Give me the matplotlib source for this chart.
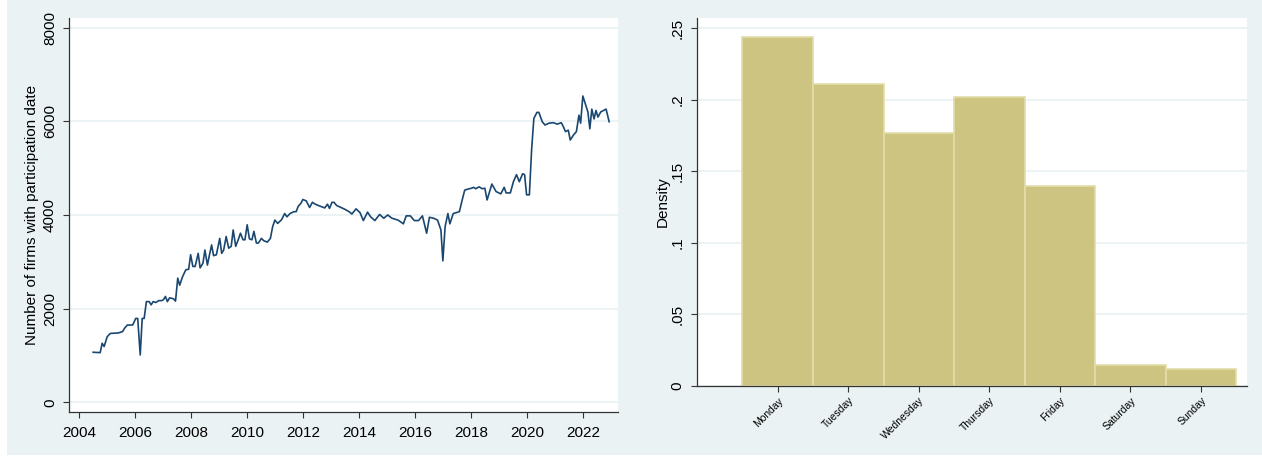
import matplotlib
matplotlib.use("Agg")
import matplotlib.pyplot as plt
from matplotlib.patches import Rectangle

plt.rcParams['font.family'] = ['Liberation Sans', 'DejaVu Sans']

# left panel: firms with participation date
years = [2004.51, 2004.76, 2004.83, 2004.90, 2005.01, 2005.12, 2005.41, 2005.56, 2005.63, 2005.73,
         2005.92, 2006.03, 2006.10, 2006.19, 2006.26, 2006.33, 2006.41, 2006.51, 2006.58, 2006.65,
         2006.75, 2006.85, 2006.95,
         2007.02, 2007.09, 2007.16, 2007.24, 2007.38, 2007.45, 2007.53, 2007.60, 2007.70, 2007.82,
         2007.92, 2007.99, 2008.07, 2008.15, 2008.26, 2008.33, 2008.43, 2008.50, 2008.59, 2008.65,
         2008.74, 2008.81, 2008.91, 2009.03, 2009.10, 2009.17, 2009.26, 2009.35, 2009.44, 2009.51,
         2009.60, 2009.69, 2009.77, 2009.86, 2009.93, 2010.01, 2010.09, 2010.18, 2010.25, 2010.34,
         2010.41, 2010.52, 2010.60, 2010.73, 2010.84, 2010.92, 2011.00, 2011.10, 2011.24, 2011.35,
         2011.43, 2011.54, 2011.68, 2011.76, 2011.83, 2011.93, 2012.00, 2012.12, 2012.24, 2012.34,
         2012.44, 2012.56, 2012.78, 2012.88, 2012.95, 2013.04, 2013.11, 2013.21, 2013.36, 2013.50,
         2013.65, 2013.75, 2013.90, 2014.04, 2014.16, 2014.31, 2014.42, 2014.57, 2014.74, 2014.89,
         2015.03, 2015.18, 2015.40, 2015.59, 2015.69, 2015.84, 2015.98, 2016.13, 2016.27, 2016.42,
         2016.52, 2016.67, 2016.81, 2016.93, 2017.00, 2017.08, 2017.18, 2017.25, 2017.37, 2017.59,
         2017.69, 2017.78, 2017.88, 2018.02, 2018.10, 2018.17, 2018.30, 2018.40, 2018.50,
         2018.58, 2018.75, 2018.90, 2019.07, 2019.19, 2019.26,
         2019.41, 2019.52, 2019.63, 2019.73, 2019.85, 2019.92, 2019.99, 2020.09, 2020.17, 2020.25,
         2020.36, 2020.43, 2020.55, 2020.65, 2020.79, 2020.94, 2021.09, 2021.23, 2021.30, 2021.38,
         2021.48, 2021.55, 2021.67, 2021.77, 2021.86, 2021.92, 2022.00, 2022.12, 2022.18, 2022.25,
         2022.32, 2022.40, 2022.47, 2022.54, 2022.64, 2022.83, 2022.94]
firms = [1068, 1060, 1260, 1190, 1400, 1470, 1480, 1510, 1580, 1650,
         1650, 1790, 1790, 1010, 1790, 1790, 2150, 2150, 2080, 2150,
         2130, 2170, 2170,
         2190, 2260, 2150, 2230, 2210, 2160, 2650, 2500, 2680, 2830,
         2840, 3150, 2900, 2900, 3180, 2870, 2970, 3250, 2930, 3110,
         3360, 3130, 3150, 3500, 3180, 3250, 3540, 3290, 3330, 3680,
         3330, 3470, 3610, 3470, 3470, 3790, 3490, 3470, 3650, 3400,
         3400, 3500, 3450, 3420, 3500, 3750, 3890, 3820, 3900, 4030,
         3960, 4030, 4070, 4070, 4180, 4250, 4330, 4300, 4160, 4270,
         4230, 4200, 4150, 4230, 4140, 4270, 4270, 4200, 4160, 4120,
         4070, 4020, 4130, 4050, 3880, 4060, 3960, 3880, 4010, 3930,
         4000, 3930, 3890, 3810, 3980, 3980, 3880, 3880, 3980, 3610,
         3950, 3930, 3890, 3680, 3020, 3750, 4030, 3810, 4030, 4070,
         4320, 4530, 4550, 4570, 4590, 4560, 4600, 4560, 4570,
         4320, 4660, 4500, 4450, 4590, 4470,
         4470, 4710, 4860, 4710, 4880, 4860, 4430, 4430, 5390, 6060,
         6190, 6190, 5990, 5920, 5960, 5970, 5940, 5970, 5890, 5780,
         5810, 5600, 5710, 5780, 6130, 5960, 6540, 6310, 6200, 5840,
         6260, 6050, 6230, 6090, 6200, 6260, 5990]

# right panel: day of week histogram
days = ["Monday", "Tuesday", "Wednesday", "Thursday", "Friday", "Saturday", "Sunday"]
density = [0.2437, 0.211, 0.1768, 0.2019, 0.1399, 0.0143, 0.0115]

bg = "#eaf2f3"
W, H = 1262, 457
fig = plt.figure(figsize=(W / 100, H / 100), dpi=100)
fig.patch.set_facecolor("white")
fig.patches.append(Rectangle((7 / W, 2 / H), 1 - 7 / W, 1 - 2 / H, transform=fig.transFigure,
                             facecolor=bg, edgecolor="none", zorder=-10))

ax1 = fig.add_axes([69.4 / W, 1 - 412.3 / H, (618.4 - 69.4) / W, (412.3 - 18.3) / H])
ax2 = fig.add_axes([697.3 / W, 1 - 385.7 / H, (1246.7 - 697.3) / W, (385.7 - 18.3) / H])

for ax in (ax1, ax2):
    ax.set_facecolor("white")
    for s in ("top", "right"):
        ax.spines[s].set_visible(False)
    for s in ("left", "bottom"):
        ax.spines[s].set_color("#333333")
        ax.spines[s].set_linewidth(0.9)
    ax.set_axisbelow(True)
    ax.yaxis.grid(True, color=bg, linewidth=1.3)
    ax.tick_params(length=4, width=0.8, color="#333333")

ax1.plot(years, firms, color="#1a476f", linewidth=1.2)
ax1.set_xlim(2003.66, 2023.27)
ax1.set_ylim(-214, 8199)
ax1.set_xticks(range(2004, 2023, 2))
ax1.set_yticks([0, 2000, 4000, 6000, 8000])
ax1.tick_params(axis="x", labelsize=11, pad=6)
ax1.tick_params(axis="y", labelsize=11, pad=5)
for lab in ax1.get_yticklabels():
    lab.set_rotation(90)
    lab.set_va("center")
ax1.set_ylabel("Number of firms with participation date", fontsize=11, labelpad=3)

xpos = list(range(1, len(days) + 1))
ax2.bar(xpos, density, width=1, color="#ccc480", edgecolor="#e2dda8", linewidth=1.2)
ax2.set_xlim(1 - 1.14, 7.648)
ax2.set_ylim(0, 0.257)
ax2.set_xticks(xpos)
ax2.set_xticklabels(days, rotation=45, ha="right", va="top", rotation_mode="anchor", fontsize=7.5)
ax2.set_yticks([0, 0.05, 0.1, 0.15, 0.2, 0.25])
ax2.set_yticklabels(["0", ".05", ".1", ".15", ".2", ".25"], rotation=90, va="center")
ax2.tick_params(axis="y", labelsize=11, pad=5)
ax2.tick_params(axis="x", pad=3)
ax2.set_ylabel("Density", fontsize=11, labelpad=1)

fig.savefig("out.png", dpi=100, facecolor=fig.get_facecolor())
